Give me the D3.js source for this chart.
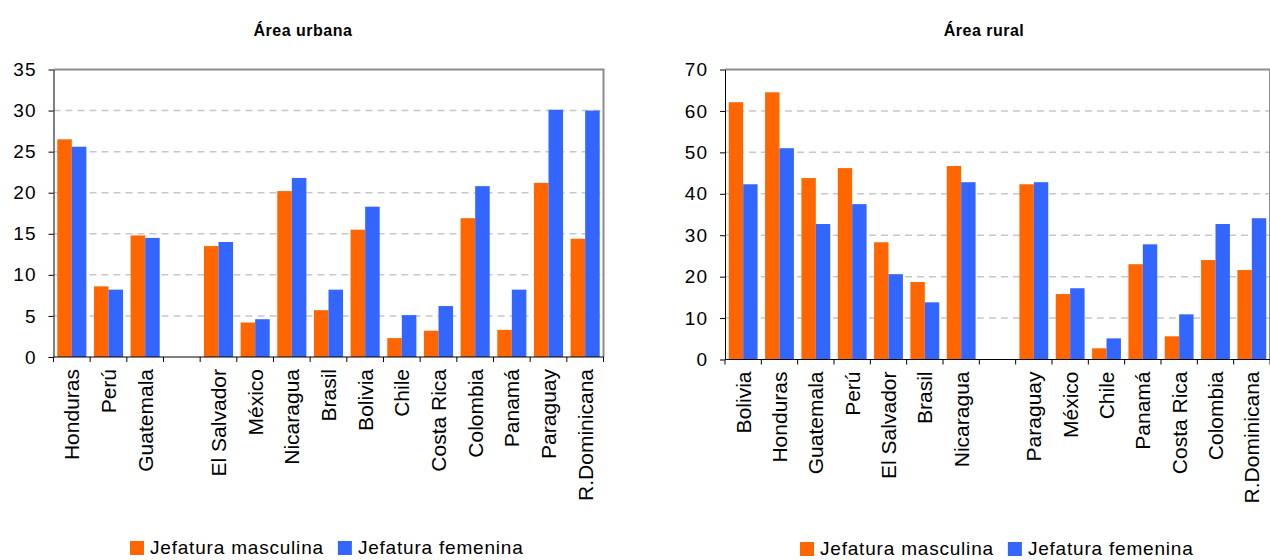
<!DOCTYPE html>
<html>
<head>
<meta charset="utf-8">
<script src="https://cdn.jsdelivr.net/npm/d3@7"></script>
<style>
  body { margin: 0; background: #fff; }
  svg { display: block; font-family: Arial, "Liberation Sans", sans-serif; }
</style>
</head>
<body>
<div id="visualization"></div>
<script>
// data
const urbanCountries = ["Honduras", "Perú", "Guatemala", " ", "El Salvador", "México", "Nicaragua",
    "Brasil", "Bolivia", "Chile", "Costa Rica", "Colombia", "Panamá", "Paraguay", "R.Dominicana"];
const urbanMale = [26.5, 8.6, 14.8, 0, 13.5, 4.2, 20.2, 5.7, 15.5, 2.3, 3.2, 16.9, 3.3, 21.2, 14.4];
const urbanFemale = [25.6, 8.2, 14.5, 0, 14.0, 4.6, 21.8, 8.2, 18.3, 5.1, 6.2, 20.8, 8.2, 30.1, 30.0];
const urbanTicks = [0, 5, 10, 15, 20, 25, 30, 35];

const ruralCountries = ["Bolivia", "Honduras", "Guatemala", "Perú", "El Salvador", "Brasil", "Nicaragua",
    " ", "Paraguay", "México", "Chile", "Panamá", "Costa Rica", "Colombia", "R.Dominicana"];
const ruralMale = [62.1, 64.5, 43.8, 46.2, 28.3, 18.7, 46.7, 0, 42.3, 15.8, 2.7, 23.0, 5.6, 24.0, 21.6];
const ruralFemale = [42.3, 51.0, 32.7, 37.5, 20.6, 13.8, 42.8, 0, 42.8, 17.2, 5.1, 27.8, 10.9, 32.7, 34.1];
const ruralTicks = [0, 10, 20, 30, 40, 50, 60, 70];

const seriesNames = ["Jefatura masculina", "Jefatura femenina"];
const seriesColors = ["#FF6600", "#3366FF"];

const svg = d3.select("#visualization")
    .append("svg")
    .attr("width", 1270)
    .attr("height", 560);

function drawPanel(cfg) {
    const g = svg.append("g");
    const x = d3.scaleBand().domain(cfg.categories).range([cfg.x0, cfg.x1]);
    const y = d3.scaleLinear().domain([0, d3.max(cfg.ticks)]).range([cfg.yBottom, cfg.yTop]);
    const sub = d3.scaleBand().domain([0, 1])
        .range([0, x.bandwidth()]).paddingOuter(0.26).paddingInner(0);

    // dashed grid
    g.append("g").selectAll("line")
        .data(cfg.ticks.filter(t => t > 0 && t < d3.max(cfg.ticks)))
        .join("line")
        .attr("x1", cfg.x0).attr("x2", cfg.x1)
        .attr("y1", d => y(d)).attr("y2", d => y(d))
        .attr("stroke", "#c8c8c8")
        .attr("stroke-width", 1.5)
        .attr("stroke-dasharray", "7,5");

    // top / right frame
    g.append("path")
        .attr("d", `M${cfg.x0},${cfg.yTop}H${cfg.x1}V${cfg.yBottom}`)
        .attr("fill", "none")
        .attr("stroke", "#8c8c8c")
        .attr("stroke-width", 2);

    // bars
    const rows = cfg.categories.map((c, i) => ({ c: c, vals: [cfg.male[i], cfg.female[i]] }));
    g.append("g").selectAll("g")
        .data(rows)
        .join("g")
        .attr("transform", d => `translate(${x(d.c)},0)`)
        .selectAll("rect")
        .data(d => d.vals.map((v, k) => ({ k: k, v: v })))
        .join("rect")
        .attr("x", d => sub(d.k))
        .attr("width", sub.bandwidth())
        .attr("y", d => y(d.v))
        .attr("height", d => y(0) - y(d.v))
        .attr("fill", d => seriesColors[d.k]);

    // y axis
    const yAxis = g.append("g")
        .attr("transform", `translate(${cfg.x0},0)`)
        .call(d3.axisLeft(y).tickValues(cfg.ticks).tickSize(5).tickPadding(12).tickSizeOuter(0));
    yAxis.select(".domain").attr("stroke", "#000");
    yAxis.selectAll("text")
        .attr("font-size", 19)
        .attr("letter-spacing", 1)
        .attr("fill", "#000");

    // x axis: ticks at band boundaries
    const xAxis = g.append("g");
    xAxis.append("line")
        .attr("x1", cfg.x0).attr("x2", cfg.x1)
        .attr("y1", cfg.yBottom).attr("y2", cfg.yBottom)
        .attr("stroke", "#000");
    xAxis.selectAll(".tk")
        .data(cfg.categories.concat(["__end"]))
        .join("line")
        .attr("class", "tk")
        .attr("x1", (d, i) => cfg.x0 + i * x.step())
        .attr("x2", (d, i) => cfg.x0 + i * x.step())
        .attr("y1", cfg.yBottom).attr("y2", cfg.yBottom + 5)
        .attr("stroke", "#000");
    xAxis.selectAll("text")
        .data(cfg.categories)
        .join("text")
        .attr("transform", d => `translate(${x(d) + x.bandwidth() / 2},${cfg.yBottom + 12}) rotate(-90)`)
        .attr("text-anchor", "end")
        .attr("dy", "0.35em")
        .attr("font-size", 21)
        .text(d => d.trim());

    // title
    g.append("text")
        .attr("x", cfg.titleX)
        .attr("y", 36)
        .attr("text-anchor", "middle")
        .attr("font-weight", "bold")
        .attr("font-size", 16)
        .attr("letter-spacing", 0.5)
        .text(cfg.title);

    // legend
    const lg = g.append("g").attr("transform", `translate(${cfg.legendX},${cfg.legendY})`);
    let cx = 0;
    seriesNames.forEach((name, k) => {
        lg.append("rect")
            .attr("x", cx).attr("y", -13)
            .attr("width", 14).attr("height", 14)
            .attr("fill", seriesColors[k]);
        const t = lg.append("text")
            .attr("x", cx + 20)
            .attr("y", 0)
            .attr("font-size", 19)
            .attr("letter-spacing", 0.8)
            .text(name);
        cx += 20 + t.node().getComputedTextLength() + 14;
    });
}

drawPanel({
    title: "Área urbana", titleX: 303,
    categories: urbanCountries, male: urbanMale, female: urbanFemale, ticks: urbanTicks,
    x0: 53.5, x1: 603.5, yTop: 69.5, yBottom: 357,
    legendX: 130, legendY: 554
});

drawPanel({
    title: "Área rural", titleX: 984,
    categories: ruralCountries, male: ruralMale, female: ruralFemale, ticks: ruralTicks,
    x0: 725, x1: 1270, yTop: 69.5, yBottom: 359.5,
    legendX: 800, legendY: 555
});
</script>
</body>
</html>
